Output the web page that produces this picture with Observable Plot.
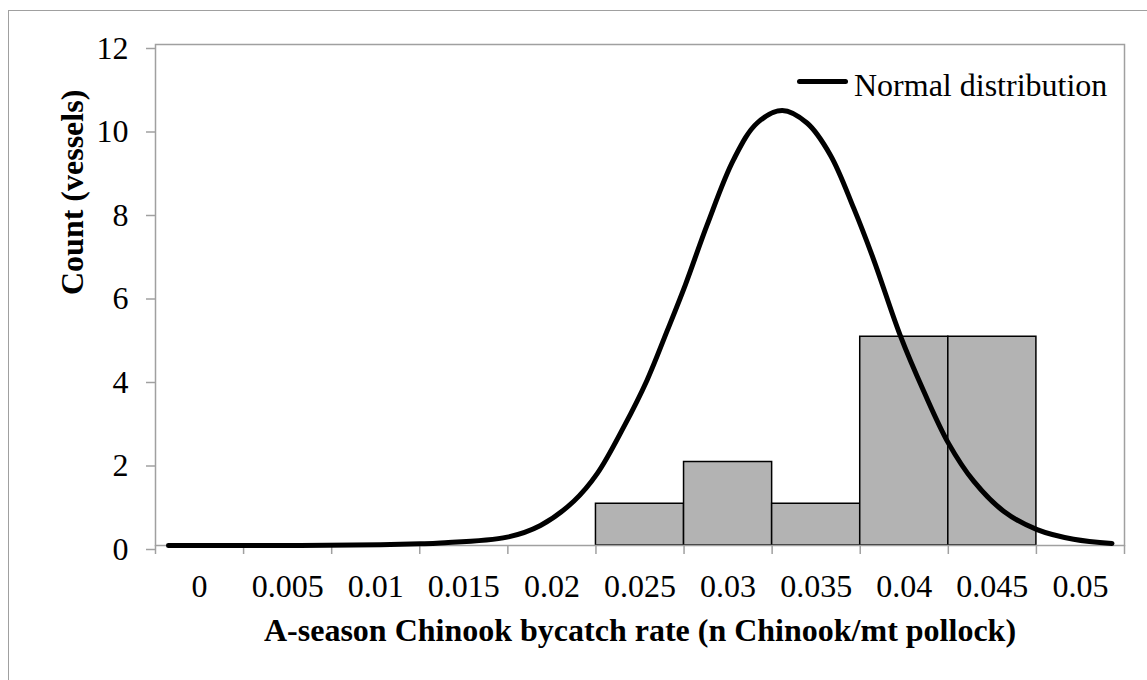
<!DOCTYPE html>
<html>
<head>
<meta charset="utf-8">
<script src="https://cdn.jsdelivr.net/npm/d3@7"></script>
<script src="https://cdn.jsdelivr.net/npm/@observablehq/plot@0.6"></script>
<style>
  html, body { margin: 0; padding: 0; background: white; overflow: hidden; }
  #wrap { position: relative; width: 1147px; height: 680px; }
  #chart svg { display: block; }
  #outer { position: absolute; left: 8px; top: 10px; width: 1200px; height: 700px;
           border-left: 1.5px solid #a0a0a0; border-top: 1.5px solid #a0a0a0; box-sizing: border-box; pointer-events: none; }
  #legend-line { position: absolute; left: 797px; top: 79px; width: 51px; height: 5px; background: black; border-radius: 2.5px; }
  #legend-text { position: absolute; left: 854px; top: 69px; font: 32px "Liberation Serif", "Times New Roman", serif; line-height: 32px; color: black; white-space: nowrap; }
</style>
</head>
<body>
<div id="wrap">
  <div id="chart"></div>
  <div id="outer"></div>
  <div id="legend-line"></div>
  <div id="legend-text">Normal distribution</div>
</div>
<script>
// Histogram bins (bin centers) and counts
const rates = [0, 0.005, 0.01, 0.015, 0.02, 0.025, 0.03, 0.035, 0.04, 0.045, 0.05];
const tickLabels = ["0", "0.005", "0.01", "0.015", "0.02", "0.025", "0.03", "0.035", "0.04", "0.045", "0.05"];
const counts = [0, 0, 0, 0, 0, 1, 2, 1, 5, 5, 0];
const binWidth = 0.005;
const yTicks = [0, 2, 4, 6, 8, 10, 12];

// Normal distribution curve
const curveRate = [-0.00176, 0.00573, 0.01027, 0.01254, 0.01367, 0.01746, 0.01935, 0.02124, 0.02257, 0.02408, 0.02540, 0.02654, 0.02758, 0.02881, 0.03032, 0.03165, 0.03307, 0.03448, 0.03581, 0.03713, 0.03826, 0.03978, 0.04110, 0.04252, 0.04394, 0.04564, 0.04754, 0.04961, 0.05179];
const curveCount = [0, 0.003, 0.02, 0.04, 0.06, 0.2, 0.48, 1.06, 1.72, 2.84, 3.96, 5.14, 6.25, 7.68, 9.25, 10.12, 10.42, 10.12, 9.35, 8.08, 6.85, 5.02, 3.70, 2.44, 1.54, 0.82, 0.38, 0.15, 0.05];

const xTitle = "A-season Chinook bycatch rate (n Chinook/mt pollock)";
const yTitle = "Count (vessels)";

const bars = rates.map((r, i) => ({rate: r, count: counts[i]})).filter(d => d.count > 0);
const curve = curveRate.map((r, i) => ({rate: r, count: curveCount[i]}));
const edges = rates.map(r => r - binWidth / 2).concat([rates[rates.length - 1] + binWidth / 2]);

const chart = Plot.plot({
  width: 1147,
  height: 680,
  marginLeft: 155,
  marginRight: 23,
  marginTop: 44,
  marginBottom: 135,
  x: {domain: [edges[0], edges[edges.length - 1]]},
  y: {domain: [0, 12]},
  style: {fontFamily: "'Liberation Serif', 'Times New Roman', serif", fontSize: "32px", color: "black", background: "transparent", overflow: "visible"},
  marks: [
    Plot.rect(bars, {x1: d => d.rate - binWidth / 2, x2: d => d.rate + binWidth / 2, y1: d => 0, y2: "count", fill: "#b3b3b3", stroke: "black", strokeWidth: 1.5}),
    Plot.frame({stroke: "#a0a0a0", strokeWidth: 1.5}),
    Plot.axisY({ticks: yTicks, tickSize: 9, tickPadding: 18, stroke: "#a0a0a0", strokeWidth: 1.5, fill: "black", label: null, dy: 4, tickFormat: d => String(d)}),
    Plot.axisX({ticks: edges, tickSize: 9, stroke: "#a0a0a0", strokeWidth: 1.5, tickFormat: () => "", label: null}),
    Plot.axisX({ticks: rates, tickSize: 0, tickPadding: 29, fill: "black", tickFormat: d => tickLabels[rates.indexOf(d)], label: null}),
    Plot.line(curve, {x: "rate", y: "count", curve: "catmull-rom", stroke: "black", strokeWidth: 5, strokeLinecap: "round", strokeLinejoin: "round"}),
    Plot.text([yTitle], {frameAnchor: "left", rotate: -90, dx: -83, lineAnchor: "middle", fontWeight: "bold", fontSize: 32, fill: "black"}),
    Plot.text([xTitle], {frameAnchor: "bottom", dy: 85, lineAnchor: "middle", fontWeight: "bold", fontSize: 32, fill: "black"})
  ]
});
document.getElementById("chart").appendChild(chart);
</script>
</body>
</html>
